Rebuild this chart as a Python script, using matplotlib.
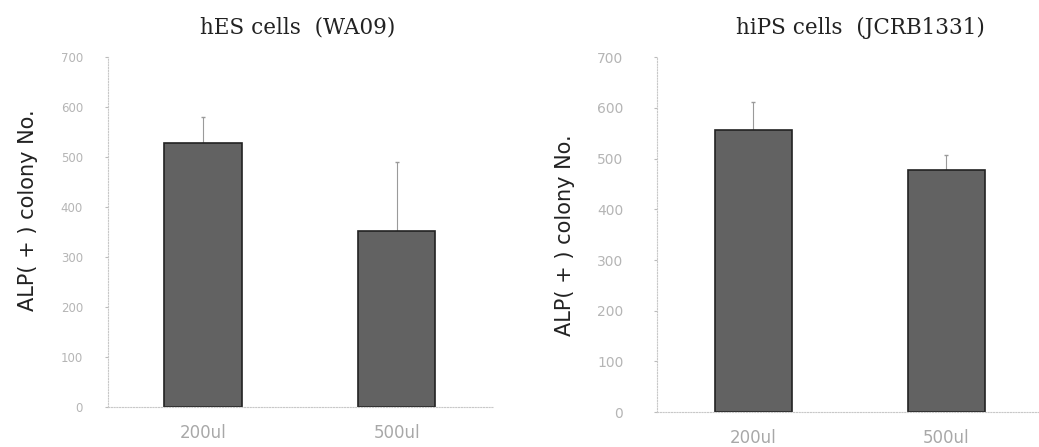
import numpy as np
import matplotlib
matplotlib.use('Agg')
import matplotlib.pyplot as plt

# ── data ──────────────────────────────────────────────────────────────────────
categories = ["200ul", "500ul"]
hes_values = [528, 352]
hes_err    = [52, 138]
hips_values = [556, 477]
hips_err    = [55, 30]
yticks = [0, 100, 200, 300, 400, 500, 600, 700]

TITLES = ["hES cells  (WA09)", "hiPS cells  (JCRB1331)"]
YLABEL = "ALP( + ) colony No."

fig = plt.figure(figsize=(10.39, 4.47), dpi=100)
ax1 = fig.add_axes([0.104, 0.0895, 0.371, 0.783])
ax2 = fig.add_axes([0.632, 0.078, 0.368, 0.794])

# per panel: axes, values, errors, title, xlim, tick font size,
# ylabel position (fig coords), title x (axes coords)
panels = [(ax1, hes_values, hes_err, TITLES[0], (-0.49, 1.50), 8.5, (0.037, 0.530), 0.491),
          (ax2, hips_values, hips_err, TITLES[1], (-0.50, 1.48), 10, (0.553, 0.474), 0.534)]

for ax, vals, errs, title, xl, tfs, ylpos, tx in panels:
    x = np.arange(len(categories))
    ax.bar(x, vals, width=0.4, color="#626262", edgecolor="#222222",
           linewidth=1.2, zorder=2)
    ax.errorbar(x, vals, yerr=[[0] * len(errs), errs], fmt="none",
                ecolor="#9a9a9a", elinewidth=0.8, capsize=1.5, zorder=1)
    ax.set_xlim(*xl)
    ax.set_ylim(0, 700)
    ax.set_xticks(x)
    ax.set_xticklabels(categories, fontsize=12, color="#a8a8a8")
    ax.set_yticks(yticks)
    ax.set_yticklabels([str(t) for t in yticks], fontsize=tfs, color="#b5b5b5")
    ax.tick_params(axis="y", length=2, color="#bbbbbb", pad=16 if tfs < 9 else 22)
    ax.tick_params(axis="x", length=0, pad=12)
    for s in ["top", "right"]:
        ax.spines[s].set_visible(False)
    for s in ["left", "bottom"]:
        ax.spines[s].set_color("#c8c8c8")
        ax.spines[s].set_linestyle((0, (1, 1.5)))
        ax.spines[s].set_linewidth(0.8)
    ax.set_ylabel(YLABEL, fontsize=15, color="#222222")
    ax.yaxis.set_label_coords(*ylpos, transform=fig.transFigure)
    ax.set_title(title, fontsize=15.5, family="DejaVu Serif",
                 color="#222222", x=tx, pad=17)

fig.savefig("out.png", dpi=100)
